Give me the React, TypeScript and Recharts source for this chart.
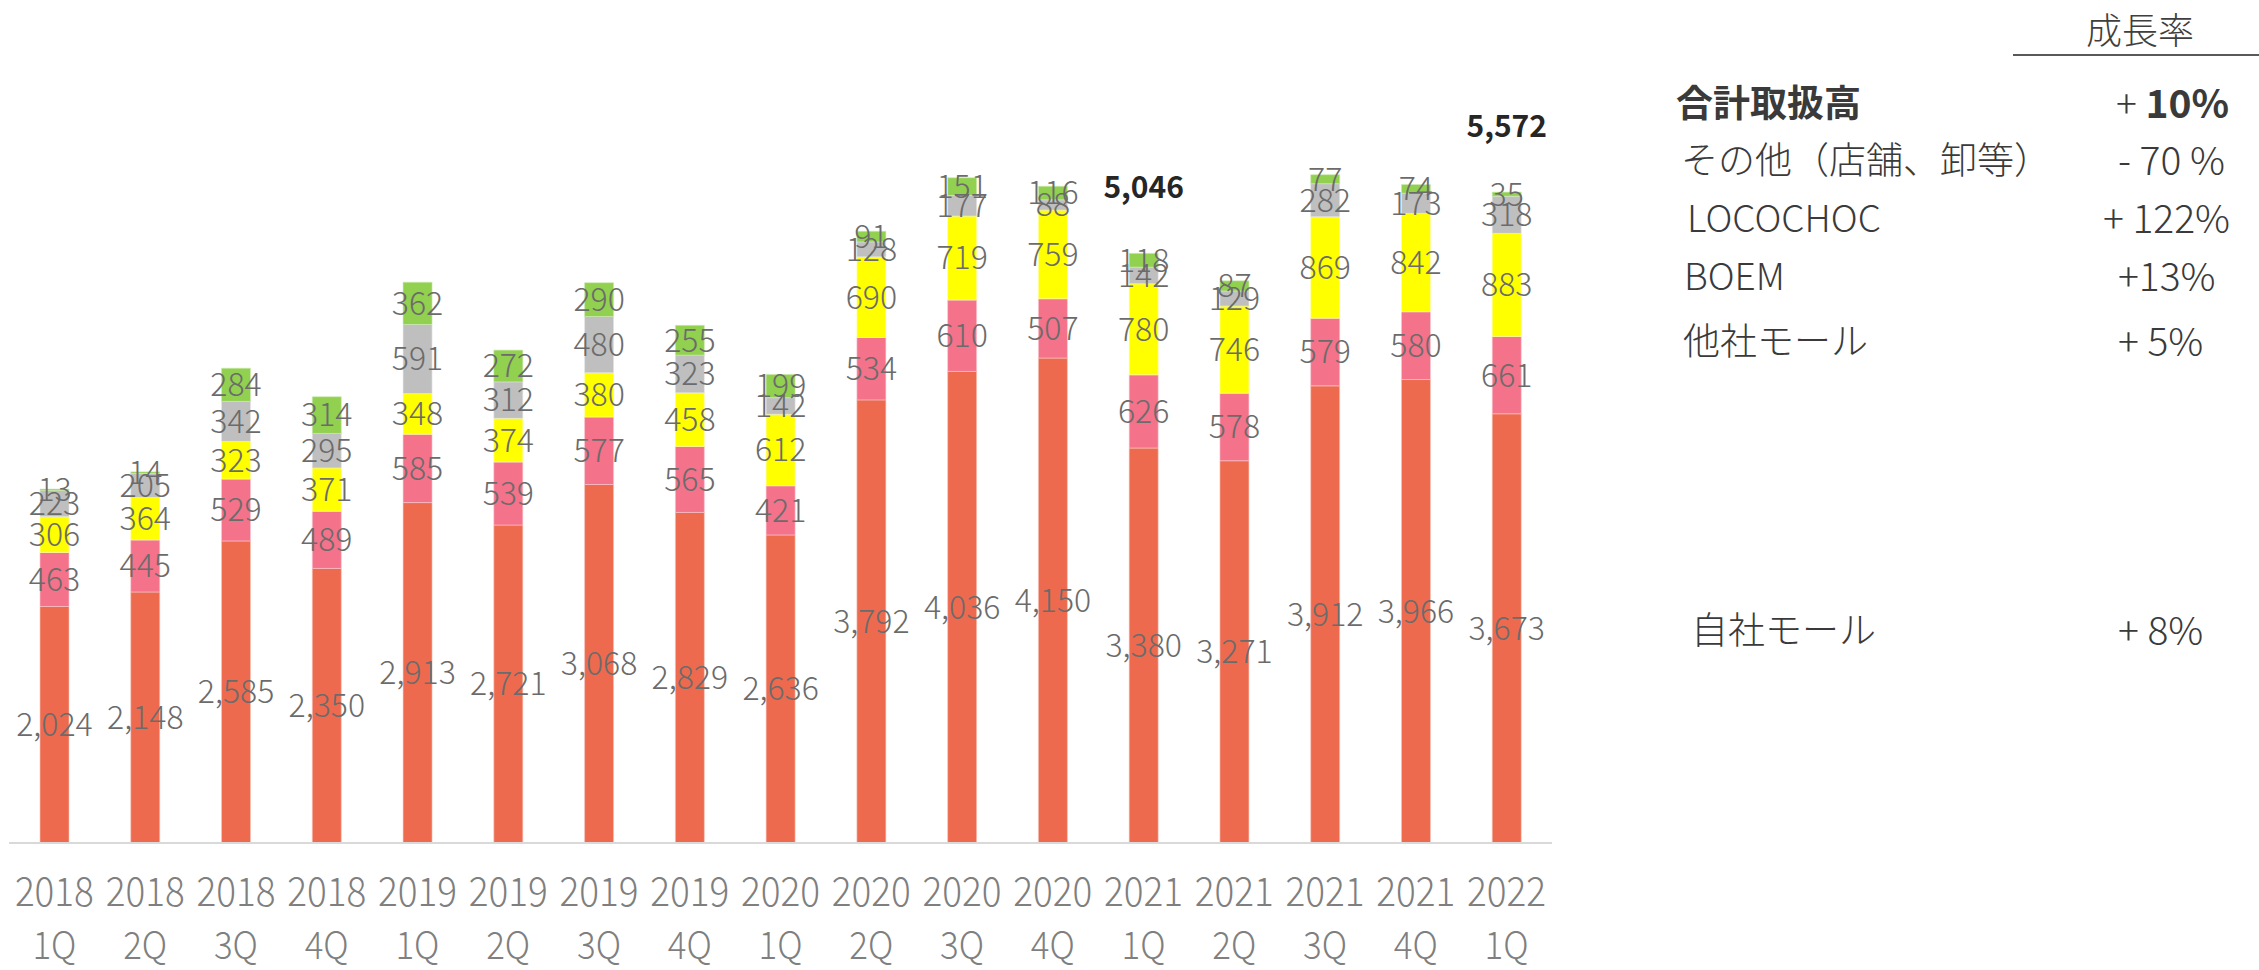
import React from "react";
import { BarChart, Bar, XAxis, YAxis, LabelList } from "recharts";

const years = ["2018", "2018", "2018", "2018", "2019", "2019", "2019", "2019", "2020", "2020", "2020", "2020", "2021", "2021", "2021", "2021", "2022"];
const quarters = ["1Q", "2Q", "3Q", "4Q", "1Q", "2Q", "3Q", "4Q", "1Q", "2Q", "3Q", "4Q", "1Q", "2Q", "3Q", "4Q", "1Q"];

const jishaMall = [2024, 2148, 2585, 2350, 2913, 2721, 3068, 2829, 2636, 3792, 4036, 4150, 3380, 3271, 3912, 3966, 3673];
const tashaMall = [463, 445, 529, 489, 585, 539, 577, 565, 421, 534, 610, 507, 626, 578, 579, 580, 661];
const boem = [306, 364, 323, 371, 348, 374, 380, 458, 612, 690, 719, 759, 780, 746, 869, 842, 883];
const locochoc = [223, 205, 342, 295, 591, 312, 480, 323, 142, 128, 177, 88, 142, 129, 282, 173, 318];
const sonota = [13, 14, 284, 314, 362, 272, 290, 255, 199, 91, 151, 116, 118, 87, 77, 74, 35];
const totals: (number | null)[] = [null, null, null, null, null, null, null, null, null, null, null, null, 5046, null, null, null, 5572];

const growthNames = ["合計取扱高", "その他（店舗、卸等）", "LOCOCHOC", "BOEM", "他社モール", "自社モール"];
const growthRates = ["10%", "- 70 %", "+ 122%", "+13%", "+ 5%", "+ 8%"];

const data = years.map((y, i) => ({
  label: y + " " + quarters[i],
  jisha: jishaMall[i],
  tasha: tashaMall[i],
  boem: boem[i],
  loco: locochoc[i],
  other: sonota[i],
}));

const FONT = '"Noto Sans CJK JP", "Noto Sans", sans-serif';
const LABEL_COLOR = "#6b6b6b";

const fmt = (v: any) => (typeof v === "number" ? v.toLocaleString("en-US") : v);

const Tick = (props: any) => {
  const { x, y, index } = props;
  return (
    <g>
      <text x={x} y={y + 46} textAnchor="middle" dominantBaseline="central" fontFamily={FONT} fontSize={40} fontWeight={300} fill="#7f7f7f" textLength={79} lengthAdjust="spacingAndGlyphs">
        {years[index]}
      </text>
      <text x={x} y={y + 99} textAnchor="middle" dominantBaseline="central" fontFamily={FONT} fontSize={38} fontWeight={300} fill="#7f7f7f" textLength={44} lengthAdjust="spacingAndGlyphs">
        {quarters[index]}
      </text>
    </g>
  );
};

const TotalLabel = (props: any) => {
  const { x, y, width, index } = props;
  const t = totals[index];
  if (t == null) return null;
  return (
    <text x={x + width / 2} y={y - 68} textAnchor="middle" dominantBaseline="central" fontFamily={FONT} fontSize={30} fontWeight={700} fill="#262626">
      {fmt(t)}
    </text>
  );
};

const labelStyle = { fontFamily: FONT, fontSize: 32, fontWeight: 300, fill: LABEL_COLOR } as any;

const rowPos = [
  { y: 101, left: 1676, rateLeft: 2116 },
  { y: 158, left: 1681, rateLeft: 2118 },
  { y: 216, left: 1687, rateLeft: 2103 },
  { y: 274, left: 1684, rateLeft: 2118 },
  { y: 339, left: 1683, rateLeft: 2118 },
  { y: 628, left: 1691, rateLeft: 2118 },
];

const textBase: React.CSSProperties = {
  position: "absolute",
  transform: "translateY(-50%)",
  fontFamily: FONT,
  color: "#3a3a3a",
  lineHeight: 1,
  whiteSpace: "nowrap",
};

export default function App() {
  return (
    <div style={{ position: "absolute", left: 0, top: 0, width: 2259, height: 970, background: "#fff", overflow: "hidden" }}>
      <BarChart
        width={1560}
        height={970}
        data={data}
        margin={{ top: 25, right: 8, bottom: 0, left: 9 }}
        barSize={29}
      >
        <XAxis
          dataKey="label"
          interval={0}
          height={127}
          tickLine={false}
          tickSize={0}
          tickMargin={0}
          axisLine={{ stroke: "#d9d9d9", strokeWidth: 2 }}
          tick={<Tick />}
        />
        <YAxis hide domain={[0, 7000]} />
        <Bar dataKey="jisha" stackId="a" fill="#EE6A4F" stroke="#f7c6bb" strokeWidth={0.6} isAnimationActive={false}>
          <LabelList dataKey="jisha" position="center" formatter={fmt} style={labelStyle} />
        </Bar>
        <Bar dataKey="tasha" stackId="a" fill="#F4728A" stroke="#f9c9d2" strokeWidth={0.6} isAnimationActive={false}>
          <LabelList dataKey="tasha" position="center" formatter={fmt} style={labelStyle} />
        </Bar>
        <Bar dataKey="boem" stackId="a" fill="#FFFF00" stroke="#ffffb0" strokeWidth={0.6} isAnimationActive={false}>
          <LabelList dataKey="boem" position="center" formatter={fmt} style={labelStyle} />
        </Bar>
        <Bar dataKey="loco" stackId="a" fill="#BFBFBF" stroke="#e6e6e6" strokeWidth={0.6} isAnimationActive={false}>
          <LabelList dataKey="loco" position="center" formatter={fmt} style={labelStyle} />
        </Bar>
        <Bar dataKey="other" stackId="a" fill="#92D050" stroke="#cfeab4" strokeWidth={0.6} isAnimationActive={false}>
          <LabelList dataKey="other" position="center" formatter={fmt} style={labelStyle} />
          <LabelList dataKey="other" content={<TotalLabel />} />
        </Bar>
      </BarChart>

      <div style={{ ...textBase, left: 2086, top: 28, fontSize: 36, fontWeight: 300, color: "#3f3f3f" }}>成長率</div>
      <div style={{ position: "absolute", left: 2013, top: 54, width: 246, height: 2, background: "#595959" }} />

      {growthNames.map((name, i) => (
        <React.Fragment key={name}>
          <div style={{ ...textBase, left: rowPos[i].left, top: rowPos[i].y, fontSize: 37, fontWeight: i === 0 ? 700 : 300 }}>
            {name}
          </div>
          <div style={{ ...textBase, left: rowPos[i].rateLeft, top: rowPos[i].y, fontSize: 39, fontWeight: 300 }}>
            {i === 0 ? (
              <>
                {"+ "}
                <span style={{ fontWeight: 700 }}>{growthRates[i]}</span>
              </>
            ) : (
              growthRates[i]
            )}
          </div>
        </React.Fragment>
      ))}
    </div>
  );
}
